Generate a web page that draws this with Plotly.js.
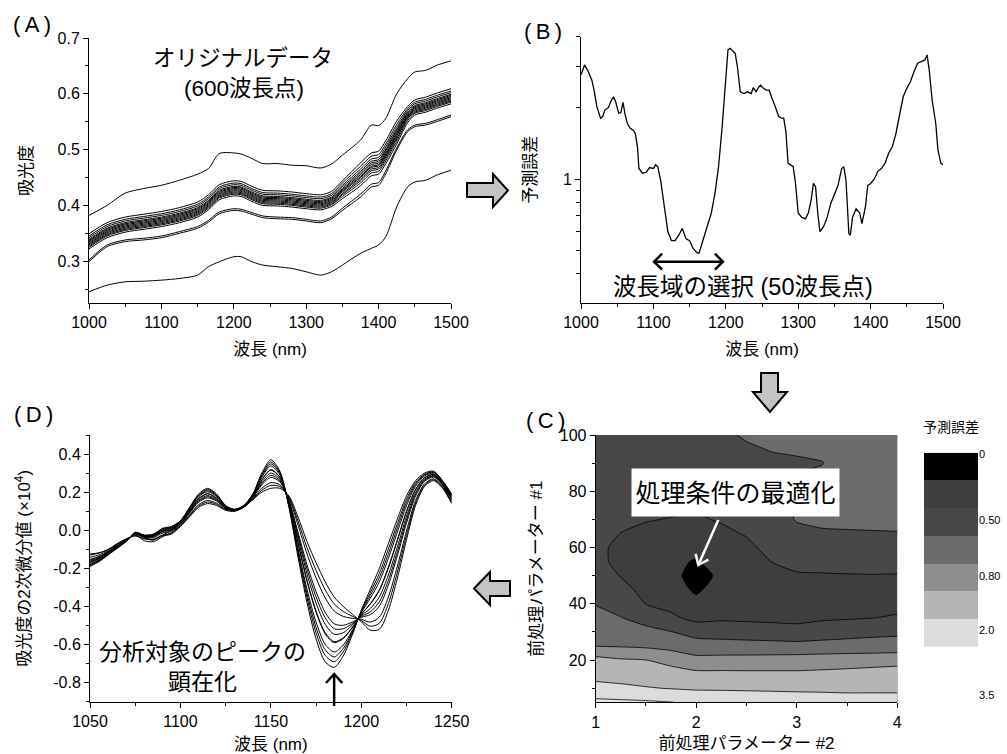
<!DOCTYPE html>
<html><head><meta charset="utf-8">
<script src="https://cdn.plot.ly/plotly-3.0.1.min.js"></script>
<style>html,body{margin:0;padding:0;background:#fff}#chart{width:1007px;height:754px}</style>
</head><body><div id="chart"></div>
<script>
const W = 1007, H = 754;
const LAT = "'Liberation Sans', Arial, sans-serif";
const MIX = "'Liberation Sans', 'Noto Sans CJK JP', sans-serif";

// ---------- Panel A: original spectra ----------
const wlA = [1000,1025,1050,1075,1100,1125,1150,1165,1180,1200,1210,1225,1240,1260,1280,1300,1320,1335,1350,1375,1390,1400,1410,1425,1440,1450,1465,1480,1500];
const absHigh  = [0.382,0.400,0.422,0.430,0.436,0.445,0.456,0.466,0.493,0.494,0.492,0.484,0.475,0.475,0.472,0.471,0.467,0.474,0.490,0.517,0.544,0.543,0.556,0.600,0.627,0.639,0.642,0.651,0.659];
const absMain01 = [0.322,0.342,0.352,0.357,0.362,0.369,0.379,0.392,0.410,0.417,0.416,0.407,0.400,0.399,0.397,0.394,0.392,0.398,0.412,0.435,0.453,0.456,0.475,0.510,0.548,0.562,0.567,0.574,0.582];
const absMain02 = [0.325,0.345,0.355,0.360,0.365,0.372,0.382,0.395,0.413,0.420,0.419,0.410,0.403,0.402,0.400,0.397,0.395,0.401,0.416,0.440,0.458,0.461,0.480,0.515,0.552,0.565,0.570,0.577,0.585];
const absMain03 = [0.327,0.347,0.357,0.362,0.367,0.374,0.384,0.397,0.415,0.422,0.421,0.412,0.405,0.404,0.402,0.399,0.397,0.403,0.419,0.444,0.462,0.465,0.484,0.519,0.555,0.567,0.572,0.579,0.587];
const absMain04 = [0.329,0.349,0.359,0.364,0.369,0.376,0.386,0.399,0.417,0.424,0.423,0.414,0.407,0.406,0.404,0.401,0.399,0.405,0.421,0.447,0.465,0.468,0.487,0.522,0.557,0.569,0.574,0.581,0.589];
const absMain05 = [0.331,0.351,0.361,0.366,0.371,0.378,0.388,0.401,0.419,0.426,0.425,0.416,0.409,0.408,0.406,0.403,0.401,0.407,0.424,0.450,0.468,0.471,0.490,0.525,0.559,0.571,0.576,0.583,0.591];
const absMain06 = [0.333,0.353,0.363,0.368,0.373,0.380,0.390,0.403,0.421,0.428,0.427,0.418,0.411,0.410,0.408,0.405,0.403,0.409,0.426,0.452,0.470,0.473,0.492,0.527,0.561,0.573,0.578,0.585,0.593];
const absMain07 = [0.335,0.355,0.365,0.370,0.375,0.382,0.392,0.405,0.423,0.430,0.429,0.420,0.413,0.412,0.410,0.407,0.405,0.411,0.428,0.455,0.473,0.476,0.495,0.530,0.563,0.575,0.580,0.587,0.595];
const absMain08 = [0.337,0.357,0.367,0.372,0.377,0.384,0.394,0.407,0.425,0.432,0.431,0.422,0.415,0.414,0.412,0.409,0.407,0.413,0.430,0.458,0.476,0.479,0.498,0.533,0.565,0.577,0.582,0.589,0.597];
const absMain09 = [0.339,0.359,0.369,0.374,0.379,0.386,0.396,0.409,0.427,0.434,0.433,0.424,0.417,0.416,0.414,0.411,0.409,0.415,0.433,0.461,0.479,0.482,0.501,0.536,0.567,0.579,0.584,0.591,0.599];
const absMain10 = [0.342,0.362,0.372,0.377,0.382,0.389,0.399,0.412,0.430,0.437,0.436,0.427,0.420,0.419,0.417,0.414,0.412,0.418,0.436,0.465,0.483,0.486,0.505,0.540,0.570,0.582,0.587,0.594,0.602];
const absMain11 = [0.345,0.365,0.375,0.380,0.385,0.392,0.402,0.415,0.433,0.440,0.439,0.430,0.423,0.422,0.420,0.417,0.415,0.421,0.440,0.470,0.488,0.491,0.510,0.545,0.573,0.585,0.590,0.597,0.605];
const absMain12 = [0.349,0.369,0.379,0.384,0.389,0.396,0.406,0.419,0.437,0.444,0.443,0.434,0.427,0.426,0.424,0.421,0.419,0.425,0.444,0.476,0.494,0.497,0.516,0.551,0.577,0.589,0.594,0.601,0.609];
const absLowerA = [0.299,0.326,0.335,0.338,0.342,0.350,0.359,0.370,0.385,0.391,0.390,0.384,0.378,0.376,0.375,0.372,0.369,0.376,0.391,0.415,0.433,0.436,0.457,0.499,0.532,0.541,0.544,0.550,0.559];
const absLowerB = [0.302,0.329,0.338,0.341,0.345,0.353,0.362,0.373,0.388,0.394,0.393,0.387,0.381,0.379,0.378,0.375,0.372,0.379,0.395,0.420,0.438,0.441,0.462,0.503,0.535,0.544,0.547,0.553,0.562];
const absLowest = [0.245,0.257,0.263,0.264,0.266,0.269,0.275,0.290,0.299,0.308,0.308,0.299,0.293,0.290,0.287,0.281,0.275,0.281,0.293,0.314,0.323,0.329,0.344,0.397,0.433,0.442,0.445,0.454,0.463];
const spectraA = [absHigh,absMain01,absMain02,absMain03,absMain04,absMain05,absMain06,absMain07,absMain08,absMain09,absMain10,absMain11,absMain12,absLowerA,absLowerB,absLowest];

// ---------- Panel B: prediction error vs wavelength ----------
const wlB = [1000,1005,1010,1015,1018,1022,1027,1030,1033,1038,1042,1045,1048,1052,1055,1058,1061,1064,1068,1072,1075,1078,1080,1085,1090,1095,1100,1103,1106,1110,1115,1120,1125,1130,1135,1140,1145,1150,1155,1160,1163,1168,1175,1180,1185,1190,1195,1200,1203,1206,1210,1213,1216,1220,1225,1230,1235,1238,1242,1245,1248,1252,1256,1260,1263,1266,1270,1273,1277,1280,1283,1286,1290,1293,1296,1300,1305,1310,1314,1318,1321,1324,1327,1330,1335,1340,1345,1350,1355,1360,1363,1366,1370,1372,1375,1380,1385,1388,1393,1396,1400,1405,1410,1415,1420,1425,1430,1435,1440,1445,1450,1455,1460,1465,1470,1475,1478,1481,1485,1490,1493,1497,1500];
const errB = [2.76,3.04,2.85,2.62,2.38,2.02,1.81,1.84,1.96,2.01,2.16,2.23,2.12,1.90,1.91,2.11,1.87,1.72,1.64,1.61,1.56,1.37,1.11,1.06,1.07,1.12,1.11,1.15,1.13,0.99,0.77,0.60,0.55,0.55,0.58,0.62,0.56,0.55,0.51,0.49,0.487,0.55,0.65,0.72,0.87,1.13,1.67,2.62,3.52,3.57,3.45,3.40,2.99,2.34,2.30,2.34,2.30,2.44,2.34,2.44,2.50,2.42,2.38,2.38,2.23,2.09,1.96,1.84,1.81,1.81,1.59,1.17,1.15,1.13,0.98,0.72,0.69,0.68,0.72,0.82,0.96,0.93,0.72,0.60,0.63,0.69,0.79,0.86,0.94,1.11,1.13,0.99,0.59,0.58,0.69,0.75,0.72,0.65,0.77,0.94,0.96,1.00,1.08,1.11,1.17,1.29,1.37,1.56,1.90,2.23,2.42,2.58,2.85,3.09,3.14,3.19,3.35,2.89,2.16,1.72,1.33,1.17,1.15];
const majorTicksB = [1];
const minorTicksB = [0.4,0.5,0.6,0.7,0.8,0.9,2,3,4];
const selRangeB = [1100,1197];

// ---------- Panel C: error map (band index) ----------
const param2 = [1,1.25,1.5,1.75,2,2.25,2.5,2.75,3,3.25,3.5,3.75,4];
const param1 = [5,7.5,10,15,20,22.5,25,30,35,40,45,50,55,60,65,70,75,80,85,90,95,100];
const errLevel = [
 [7.25,7.19,7.13,7.02,6.85,6.8,6.75,6.7,6.65,6.6,6.55,6.5,6.45],
 [6.77,6.69,6.60,6.48,6.37,6.35,6.3,6.25,6.2,6.15,6.1,6.1,6.08],
 [6.30,6.19,6.06,5.96,5.87,5.85,5.83,5.81,5.79,5.8,5.8,5.81,5.84],
 [5.67,5.60,5.52,5.40,5.24,5.23,5.21,5.21,5.2,5.25,5.3,5.35,5.37],
 [5.19,5.10,5.01,4.70,4.31,4.34,4.35,4.36,4.38,4.44,4.52,4.62,4.72],
 [4.81,4.53,4.37,4.15,3.85,3.86,3.86,3.88,3.89,3.93,3.96,3.99,4.03],
 [3.98,3.93,3.87,3.74,3.49,3.47,3.44,3.41,3.36,3.41,3.46,3.53,3.6],
 [3.63,3.48,3.28,3.03,2.61,2.5,2.4,2.32,2.25,2.43,2.56,2.67,2.73],
 [3.28,3.03,2.64,2.17,1.75,1.87,1.85,1.84,1.82,1.89,1.93,1.99,2.05],
 [2.96,2.65,1.98,1.74,1.27,1.64,1.64,1.62,1.59,1.69,1.72,1.79,1.87],
 [2.72,2.28,1.74,1.42,0.86,1.42,1.43,1.4,1.66,1.73,1.76,1.78,1.78],
 [2.48,1.96,1.5,1.3,0.62,1.2,1.39,1.71,1.92,1.94,1.96,1.97,1.96],
 [2.25,1.77,1.45,1.2,0.93,1.42,1.62,2.01,2.21,2.24,2.26,2.27,2.28],
 [2.2,1.81,1.68,1.54,1.25,1.64,1.85,2.2,2.48,2.56,2.59,2.6,2.62],
 [2.3,1.99,1.85,1.76,1.58,1.86,2.05,2.4,2.8,2.88,2.92,2.94,2.96],
 [2.4,2.15,2.04,1.97,1.92,2.06,2.19,2.6,3.05,3.2,3.2,3.22,3.22],
 [2.5,2.3,2.2,2.15,2.1,2.2,2.34,2.7,3.08,3.3,3.35,3.35,3.35],
 [2.55,2.4,2.3,2.25,2.2,2.3,2.48,2.75,3.08,3.3,3.4,3.42,3.42],
 [2.6,2.45,2.35,2.3,2.3,2.45,2.63,2.8,3.03,3.2,3.4,3.45,3.45],
 [2.65,2.5,2.4,2.35,2.4,2.6,2.78,2.88,2.9,2.97,3.35,3.45,3.45],
 [2.7,2.55,2.45,2.4,2.5,2.75,2.92,3.03,3.1,3.2,3.35,3.45,3.45],
 [2.75,2.6,2.5,2.45,2.6,2.88,3.07,3.2,3.25,3.3,3.4,3.45,3.45]
];
const bandColors = ['#000000','#3e3e3e','#484848','#6b6b6b','#8e8e8e','#b5b5b5','#dcdcdc','#e6e6e6'];
const bandEdges = [0.1,0.24,0.37,0.5,0.63,0.76,0.9];
const cbLevels = [0,1,2,3,4,5,6];
const cbTickPos = [0.05,2.43,4.44,6.4,8.75];
const cbTickText = ['0','0.50','0.80','2.0','3.5'];
const optimumC = {x:2.02, y:53.9};

// ---------- Panel D: second derivative spectra ----------
const wlD = [1050,1055,1060,1065,1070,1075,1080,1085,1090,1095,1100,1105,1110,1115,1120,1125,1130,1135,1140,1145,1150,1155,1160,1165,1170,1175,1180,1185,1190,1195,1200,1205,1210,1215,1220,1225,1230,1235,1240,1245,1250];
const d2Curve01 = [-0.13,-0.12,-0.10,-0.07,-0.045,-0.03,-0.045,-0.05,-0.03,-0.02,0.02,0.07,0.12,0.14,0.13,0.105,0.10,0.12,0.16,0.20,0.22,0.22,0.18,0.07,-0.06,-0.17,-0.27,-0.35,-0.40,-0.44,-0.48,-0.525,-0.52,-0.42,-0.25,-0.05,0.13,0.23,0.26,0.22,0.14];
const d2Curve02 = [-0.125,-0.118,-0.103,-0.073,-0.047,-0.028,-0.043,-0.047,-0.026,-0.016,0.023,0.075,0.127,0.148,0.136,0.108,0.101,0.121,0.163,0.21,0.235,0.229,0.174,0.049,-0.092,-0.21,-0.312,-0.387,-0.426,-0.451,-0.474,-0.504,-0.488,-0.385,-0.219,-0.027,0.143,0.237,0.265,0.224,0.145];
const d2Curve03 = [-0.142,-0.129,-0.106,-0.075,-0.048,-0.026,-0.055,-0.06,-0.035,-0.012,0.026,0.08,0.134,0.156,0.142,0.11,0.102,0.122,0.166,0.22,0.25,0.238,0.168,0.028,-0.124,-0.25,-0.354,-0.424,-0.452,-0.462,-0.468,-0.482,-0.456,-0.35,-0.188,-0.004,0.156,0.244,0.27,0.228,0.15];
const d2Curve04 = [-0.153,-0.137,-0.111,-0.080,-0.051,-0.022,-0.037,-0.039,-0.015,-0.005,0.031,0.089,0.147,0.170,0.153,0.115,0.104,0.124,0.171,0.238,0.277,0.254,0.157,-0.010,-0.182,-0.322,-0.430,-0.491,-0.499,-0.482,-0.457,-0.443,-0.398,-0.287,-0.132,0.037,0.179,0.257,0.279,0.235,0.159];
const d2Curve05 = [-0.157,-0.140,-0.114,-0.081,-0.052,-0.021,-0.036,-0.052,-0.025,-0.002,0.034,0.093,0.152,0.176,0.157,0.116,0.105,0.125,0.174,0.245,0.288,0.261,0.153,-0.025,-0.204,-0.35,-0.459,-0.517,-0.517,-0.490,-0.453,-0.428,-0.376,-0.263,-0.111,0.054,0.189,0.262,0.283,0.238,0.163];
const d2Curve06 = [-0.162,-0.144,-0.116,-0.083,-0.053,-0.019,-0.034,-0.034,-0.009,0.001,0.036,0.097,0.157,0.182,0.162,0.118,0.105,0.125,0.176,0.253,0.300,0.268,0.148,-0.041,-0.230,-0.382,-0.493,-0.546,-0.538,-0.498,-0.448,-0.411,-0.350,-0.235,-0.086,0.072,0.199,0.267,0.287,0.241,0.167];
const d2Curve07 = [-0.168,-0.149,-0.119,-0.086,-0.055,-0.017,-0.032,-0.031,-0.005,0.005,0.039,0.102,0.164,0.191,0.168,0.121,0.106,0.126,0.179,0.264,0.315,0.277,0.142,-0.063,-0.263,-0.424,-0.537,-0.585,-0.565,-0.510,-0.442,-0.388,-0.317,-0.198,-0.053,0.096,0.213,0.274,0.292,0.245,0.172];
const d2Curve08 = [-0.169,-0.149,-0.120,-0.086,-0.055,-0.017,-0.032,-0.031,-0.004,0.006,0.040,0.103,0.166,0.192,0.169,0.121,0.107,0.127,0.180,0.265,0.318,0.279,0.141,-0.067,-0.268,-0.430,-0.543,-0.590,-0.569,-0.512,-0.441,-0.385,-0.312,-0.193,-0.049,0.100,0.215,0.276,0.293,0.246,0.173];
const d2Curve09 = [-0.177,-0.155,-0.123,-0.090,-0.057,-0.014,-0.029,-0.027,0.001,0.011,0.043,0.109,0.175,0.202,0.177,0.125,0.108,0.128,0.183,0.278,0.337,0.290,0.133,-0.094,-0.310,-0.482,-0.598,-0.639,-0.603,-0.526,-0.433,-0.357,-0.270,-0.147,-0.008,0.129,0.231,0.285,0.299,0.251,0.179];
const d2Curve10 = [-0.181,-0.158,-0.126,-0.091,-0.058,-0.013,-0.028,-0.025,0.004,0.014,0.046,0.113,0.180,0.208,0.181,0.126,0.109,0.129,0.186,0.285,0.348,0.297,0.129,-0.109,-0.332,-0.510,-0.627,-0.665,-0.621,-0.534,-0.429,-0.342,-0.248,-0.123,0.014,0.146,0.241,0.290,0.303,0.254,0.183];
const d2Curve11 = [-0.185,-0.161,-0.128,-0.093,-0.059,-0.012,-0.027,-0.022,0.007,0.017,0.048,0.116,0.184,0.214,0.185,0.128,0.109,0.129,0.188,0.292,0.358,0.303,0.125,-0.123,-0.354,-0.538,-0.656,-0.690,-0.639,-0.541,-0.425,-0.327,-0.226,-0.098,0.035,0.162,0.250,0.294,0.306,0.257,0.186];
const d2Curve12 = [-0.19,-0.165,-0.13,-0.095,-0.06,-0.01,-0.025,-0.02,0.01,0.02,0.05,0.12,0.19,0.22,0.19,0.13,0.11,0.13,0.19,0.30,0.37,0.31,0.12,-0.14,-0.38,-0.57,-0.69,-0.72,-0.66,-0.55,-0.42,-0.31,-0.20,-0.07,0.06,0.18,0.26,0.30,0.31,0.26,0.19];
const spectraD = [d2Curve01,d2Curve02,d2Curve03,d2Curve04,d2Curve05,d2Curve06,d2Curve07,d2Curve08,d2Curve09,d2Curve10,d2Curve11,d2Curve12];
const ticksD = [-0.8,-0.6,-0.4,-0.2,0,0.2,0.4];
const tickTextD = ['-0.8','-0.6','-0.4','-0.2','0.0','0.2','0.4'];
const peakD = 1185;

// ---------- build ----------
const px = v => v / W, py = v => 1 - v / H;
const lineStyle = {color:'#000', width:1, shape:'spline', smoothing:0.8};
const traces = [];
spectraA.forEach(s => traces.push({type:'scatter', mode:'lines', x:wlA, y:s, xaxis:'x', yaxis:'y', line:lineStyle, hoverinfo:'skip', showlegend:false}));
traces.push({type:'scatter', mode:'lines', x:wlB, y:errB, xaxis:'x2', yaxis:'y2', line:{color:'#000', width:1.3}, hoverinfo:'skip', showlegend:false});

const bandScale = [];
bandColors.forEach((c, i) => {
  const lo = i === 0 ? 0 : bandEdges[i-1];
  const hi = i === bandColors.length - 1 ? 1 : bandEdges[i];
  bandScale.push([lo, c]); bandScale.push([hi, c]);
});
traces.push({type:'contour', x:param2, y:param1, z:errLevel, xaxis:'x3', yaxis:'y3',
  autocontour:false, contours:{start:1, end:7, size:1, coloring:'fill', showlines:true},
  line:{color:'#000', width:0.8, smoothing:0.6}, colorscale:bandScale, showscale:false, hoverinfo:'skip'});
spectraD.forEach(s => traces.push({type:'scatter', mode:'lines', x:wlD, y:s, xaxis:'x4', yaxis:'y4', line:lineStyle, hoverinfo:'skip', showlegend:false}));
traces.push({type:'heatmap', x:[0], y:cbLevels.map(v => v + 0.5), z:cbLevels.map(v => [v]), zmin:0, zmax:7,
  colorscale:bandScale, showscale:false, xaxis:'x5', yaxis:'y5', hoverinfo:'skip'});

const tickFont = {family:LAT, size:16, color:'#000'};
const ttl = (text, standoff) => ({text, font:{family:MIX, size:17, color:'#000'}, standoff});
const base = {showline:true, linecolor:'#000', linewidth:1, ticks:'outside', ticklen:5, tickwidth:1, tickcolor:'#000',
  showgrid:false, zeroline:false, tickfont:tickFont, fixedrange:true, automargin:false};
const minor = d => ({ticks:'outside', ticklen:3, tickwidth:1, tickcolor:'#000', dtick:d, tick0:0, showgrid:false});

const layout = {
  width:W, height:H, margin:{l:0, r:0, t:0, b:0}, paper_bgcolor:'#fff', plot_bgcolor:'rgba(0,0,0,0)',
  showlegend:false, hovermode:false, font:{family:MIX, color:'#000'},
  xaxis: Object.assign({}, base, {domain:[px(89), px(451)], anchor:'y', range:[1000,1500], dtick:100, tick0:0, minor:minor(50), title:ttl('波長 (nm)', 12)}),
  yaxis: Object.assign({}, base, {domain:[py(303), py(38)], anchor:'x', range:[0.225,0.7], dtick:0.1, tick0:0, tickformat:'.1f', minor:minor(0.05), title:ttl('吸光度', 20)}),
  xaxis2: Object.assign({}, base, {domain:[px(581), px(943)], anchor:'y2', range:[1000,1500], dtick:100, tick0:0, minor:minor(50), title:ttl('波長 (nm)', 12)}),
  yaxis2: Object.assign({}, base, {domain:[py(303), py(36.7)], anchor:'x2', type:'log', range:[Math.log10(0.3), Math.log10(4)],
    tickmode:'array', tickvals:majorTicksB, ticktext:['1'], ticklen:5,
    minor:{ticks:'outside', ticklen:4, tickwidth:1, tickcolor:'#000', tickmode:'array', tickvals:minorTicksB, showgrid:false}, title:ttl('予測誤差', 21)}),
  xaxis3: Object.assign({}, base, {domain:[px(595.7), px(897.3)], anchor:'y3', range:[1,4], dtick:1, tick0:0, minor:minor(0.5), title:ttl('前処理パラメーター #2', 7)}),
  yaxis3: Object.assign({}, base, {domain:[py(702.3), py(435)], anchor:'x3', range:[5,100], dtick:20, tick0:0, minor:minor(10), title:ttl('前処理パラメーター #1', 12)}),
  xaxis4: Object.assign({}, base, {domain:[px(90), px(451.7)], anchor:'y4', range:[1050,1250], dtick:50, tick0:0, minor:minor(25), title:ttl('波長 (nm)', 11)}),
  yaxis4: Object.assign({}, base, {domain:[py(701.7), py(435)], anchor:'x4', range:[-0.9,0.5], tickmode:'array', tickvals:ticksD, ticktext:tickTextD,
    minor:{ticks:'outside', ticklen:3, tickwidth:1, tickcolor:'#000', tickmode:'linear', tick0:0, dtick:0.1}, title:ttl('吸光度の2次微分値 (×10<sup>4</sup>)', 18)}),
  xaxis5: {domain:[px(924), px(978)], anchor:'y5', range:[-0.5,0.5], visible:false, fixedrange:true},
  yaxis5: {domain:[py(702.1), py(452.7)], anchor:'x5', range:[9,0], side:'right', showline:false, ticks:'', showgrid:false, zeroline:false,
    tickmode:'array', tickvals:cbTickPos, ticktext:cbTickText, tickfont:{family:LAT, size:11, color:'#000'}, fixedrange:true},
  annotations: [],
  shapes: []
};

const ann = (text, x, y, size, extra) => Object.assign({text, x:px(x), y:py(y), xref:'paper', yref:'paper', showarrow:false,
  xanchor:'center', yanchor:'middle', font:{family:MIX, size, color:'#000'}}, extra || {});
const A = layout.annotations;
A.push(ann('(\u2009A\u2009)', 31.7, 24, 22));
A.push(ann('(\u2009B\u2009)', 543, 31.5, 22));
A.push(ann('(\u2009C\u2009)', 545, 421, 22));
A.push(ann('(\u2009D\u2009)', 33.3, 414, 22));
A.push(ann('オリジナルデータ', 243.3, 58.3, 22.5));
A.push(ann('(600波長点)', 244, 88.3, 22.5));
A.push(ann('波長域の選択 (50波長点)', 742.5, 286.7, 23.5));
A.push(ann('分析対象のピークの', 202.5, 651.7, 23));
A.push(ann('顕在化', 202.5, 681.7, 23));
A.push(ann('予測誤差', 950.7, 427.3, 14));
A.push(ann('処理条件の最適化', 735.5, 492.3, 25, {bgcolor:'#fff', width:201, height:41, borderpad:3}));

// ---- arrow shapes ----
const S = layout.shapes;
const pp = pts => 'M' + pts.map(p => px(p[0]) + ',' + py(p[1])).join(' L');
const blk = pts => ({type:'path', xref:'paper', yref:'paper', path:pp(pts) + ' Z', fillcolor:'#c4c4c4', line:{color:'#000', width:2}});
S.push(blk([[467,183],[493,183],[493,174],[508,190.5],[493,207],[493,197],[467,197]]));
S.push(blk([[761,373],[778,373],[778,392],[787,392],[770,412],[753,392],[761,392]]));
S.push(blk([[510,581],[490,581],[490,572],[474,588.5],[490,605],[490,596],[510,596]]));

// double-headed arrow in B: data x (nm), paper y
const yArrB = py(261.7), hB = 8 / H, dxB = 12;
const lineB = {color:'#000', width:2.5};
S.push({type:'line', xref:'x2', yref:'paper', x0:selRangeB[0], x1:selRangeB[1], y0:yArrB, y1:yArrB, line:lineB});
S.push({type:'path', xref:'x2', yref:'paper', path:`M${selRangeB[0]+dxB},${yArrB+hB} L${selRangeB[0]+1},${yArrB} L${selRangeB[0]+dxB},${yArrB-hB}`, line:lineB});
S.push({type:'path', xref:'x2', yref:'paper', path:`M${selRangeB[1]-dxB},${yArrB+hB} L${selRangeB[1]-1},${yArrB} L${selRangeB[1]-dxB},${yArrB-hB}`, line:lineB});

// up arrow in D at the enhanced peak
const tipD = py(674), tailD = py(706), hdD = 9 / H, dxD = 4.5;
S.push({type:'line', xref:'x4', yref:'paper', x0:peakD, x1:peakD, y0:tailD, y1:tipD, line:lineB});
S.push({type:'path', xref:'x4', yref:'paper', path:`M${peakD-dxD},${tipD-hdD} L${peakD},${tipD} L${peakD+dxD},${tipD-hdD}`, line:lineB});

// white arrow in C (pixel geometry around the optimum)
const tipC = [698.3, 565], tailC = [718.3, 520];
const lineC = {color:'#fff', width:2.5};
S.push({type:'path', xref:'paper', yref:'paper', path:pp([tailC, tipC]), line:lineC});
S.push({type:'path', xref:'paper', yref:'paper', path:pp([[708.4,559.6], tipC, [695.6,553.9]]), line:lineC});

Plotly.newPlot('chart', traces, layout, {staticPlot:true, displayModeBar:false});
</script></body></html>
